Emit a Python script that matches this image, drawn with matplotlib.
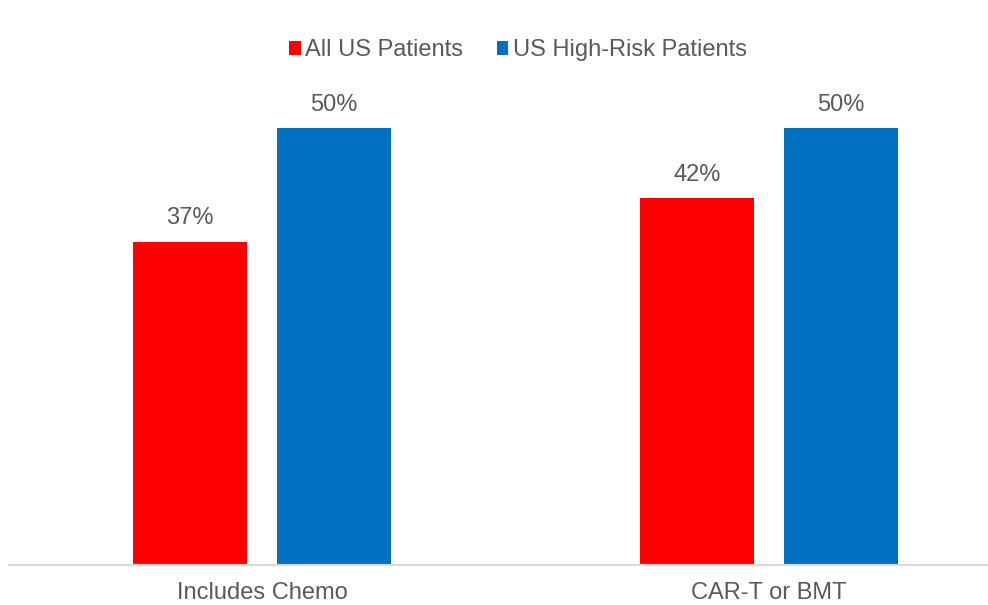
import matplotlib
matplotlib.use("Agg")
import matplotlib.pyplot as plt
import numpy as np

categories = ["Includes Chemo", "CAR-T or BMT"]
all_us = [37, 42]
high_risk = [50, 50]
series_names = ["All US Patients", "US High-Risk Patients"]

RED = "#FF0000"
BLUE = "#0070C0"
GREY_TEXT = "#595959"

plt.rcParams["font.family"] = ["Liberation Sans", "DejaVu Sans"]

fig = plt.figure(figsize=(9.88, 6.05), dpi=100)
# axes runs past the right edge so the second group sits where it should
ax = fig.add_axes([8.5 / 988, 40 / 605, 1014 / 988, 524 / 605])

x = np.arange(len(categories))
width = 0.225
offset = 0.142

b1 = ax.bar(x - offset, all_us, width, color=RED, label=series_names[0], zorder=2)
b2 = ax.bar(x + offset, high_risk, width, color=BLUE, label=series_names[1], zorder=2)

for bars in (b1, b2):
    for rect in bars:
        h = rect.get_height()
        ax.annotate(f"{h:.0f}%", (rect.get_x() + rect.get_width() / 2, h),
                    xytext=(0, 9), textcoords="offset points",
                    ha="center", va="bottom", fontsize=17, color=GREY_TEXT)

ax.set_xlim(-0.5, 1.5)
ax.set_ylim(0, 60)
ax.set_xticks(x)
ax.set_xticklabels(categories, fontsize=17, color=GREY_TEXT)
ax.tick_params(axis="x", length=0, pad=12)
ax.set_yticks([])
for side in ("top", "left", "right"):
    ax.spines[side].set_visible(False)
ax.spines["bottom"].set_color("#D9D9D9")
ax.spines["bottom"].set_linewidth(1.5)
ax.spines["bottom"].set_zorder(3)

fig.legend(loc="center", bbox_to_anchor=(518 / 988, 1 - 50 / 605), ncol=2,
           frameon=False, fontsize=17, labelcolor=GREY_TEXT,
           handlelength=0.5, handleheight=0.55, handletextpad=0.2,
           columnspacing=1.4)

fig.savefig("out.png", dpi=100)
